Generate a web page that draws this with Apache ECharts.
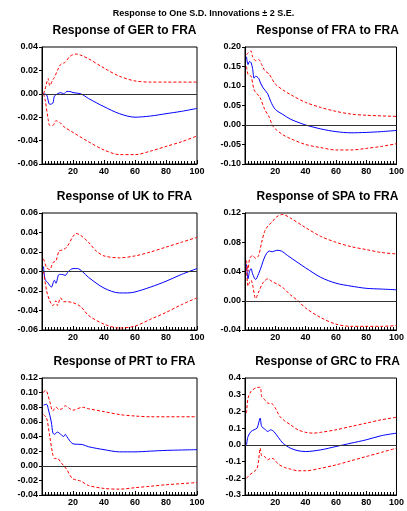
<!DOCTYPE html>
<html><head><meta charset="utf-8">
<script src="https://cdn.jsdelivr.net/npm/echarts@6/dist/echarts.min.js"></script>
<style>html,body{margin:0;padding:0;background:#fff}#c{width:407px;height:511px}</style>
</head><body><div id="c"></div>
<script>
const titles=["Response of GER to FRA","Response of FRA to FRA","Response of UK to FRA","Response of SPA to FRA","Response of PRT to FRA","Response of GRC to FRA"];
const yMin=[-0.06,-0.10,-0.06,-0.04,-0.04,-0.3];
const yMax=[0.04,0.20,0.06,0.12,0.12,0.4];
const yStep=[0.02,0.05,0.02,0.04,0.02,0.1];
const yDec=[2,2,2,2,2,1];
const gerMid=[[1,0],[3,-0.001],[5,-0.009],[7,-0.008],[8,-0.002],[10,0],[12,0.001],[14,0],[16,0.002],[18,0.002],[20,0.001],[25,0],[30,-0.004],[40,-0.011],[50,-0.017],[60,-0.020],[70,-0.019],[80,-0.017],[90,-0.015],[100,-0.0125]];
const gerUp=[[1,0],[2,0.004],[4,0.013],[5,0.007],[7,0.012],[8,0.014],[10,0.020],[12,0.025],[15,0.027],[18,0.032],[22,0.034],[25,0.033],[30,0.030],[40,0.022],[50,0.015],[60,0.011],[70,0.010],[80,0.010],[100,0.010]];
const gerLo=[[1,0],[2,-0.005],[4,-0.022],[5,-0.027],[7,-0.027],[9,-0.023],[12,-0.025],[14,-0.028],[20,-0.033],[30,-0.041],[40,-0.048],[50,-0.052],[60,-0.052],[70,-0.049],[80,-0.045],[90,-0.041],[100,-0.036]];
const fraMid=[[1,0.175],[2,0.155],[3,0.163],[4,0.16],[5,0.145],[6,0.12],[7,0.125],[9,0.12],[10,0.11],[12,0.095],[15,0.08],[17,0.06],[20,0.04],[25,0.027],[30,0.015],[35,0.007],[40,0],[50,-0.01],[60,-0.017],[70,-0.02],[80,-0.019],[90,-0.017],[100,-0.014]];
const fraUp=[[1,0.18],[2,0.185],[4,0.19],[5,0.175],[7,0.165],[9,0.168],[11,0.155],[13,0.14],[16,0.13],[20,0.105],[25,0.09],[30,0.078],[40,0.058],[50,0.045],[60,0.035],[70,0.028],[80,0.025],[100,0.022]];
const fraLo=[[1,0.15],[2,0.13],[4,0.125],[6,0.09],[8,0.08],[10,0.07],[13,0.04],[16,0.02],[18,0],[20,-0.01],[25,-0.025],[30,-0.035],[40,-0.05],[50,-0.058],[60,-0.064],[70,-0.064],[80,-0.06],[90,-0.055],[100,-0.048]];
const ukMid=[[1,0.005],[2,-0.008],[4,-0.012],[6,-0.016],[8,-0.009],[9,-0.012],[11,-0.003],[13,-0.003],[15,-0.004],[17,0],[20,0.003],[23,0.003],[26,0],[30,-0.006],[40,-0.017],[50,-0.022],[55,-0.022],[60,-0.021],[70,-0.016],[80,-0.01],[90,-0.003],[100,0.003]];
const ukUp=[[1,0.013],[3,0.004],[5,0.002],[7,0.009],[9,0.011],[11,0.021],[13,0.022],[16,0.025],[20,0.036],[22,0.039],[25,0.037],[30,0.030],[35,0.021],[40,0.016],[50,0.014],[60,0.016],[70,0.020],[80,0.025],[90,0.030],[100,0.035]];
const ukLo=[[1,0],[3,-0.02],[5,-0.03],[7,-0.035],[9,-0.03],[10,-0.035],[12,-0.027],[14,-0.031],[16,-0.031],[20,-0.032],[25,-0.036],[30,-0.045],[40,-0.054],[50,-0.058],[60,-0.056],[70,-0.049],[80,-0.042],[90,-0.034],[100,-0.027]];
const spaMid=[[1,0.05],[2,0.03],[3,0.04],[4,0.044],[5,0.037],[7,0.029],[9,0.037],[11,0.048],[13,0.06],[16,0.068],[18,0.067],[21,0.069],[24,0.068],[28,0.062],[35,0.052],[40,0.045],[50,0.032],[60,0.024],[70,0.02],[80,0.017],[90,0.016],[100,0.015]];
const spaUp=[[1,0.055],[2,0.04],[3,0.057],[5,0.062],[7,0.058],[9,0.062],[11,0.08],[13,0.095],[15,0.102],[18,0.108],[21,0.115],[25,0.118],[30,0.113],[40,0.1],[50,0.088],[60,0.08],[70,0.074],[80,0.07],[90,0.066],[100,0.064]];
const spaLo=[[1,0.045],[2,0.02],[3,0.025],[4,0.028],[5,0.022],[7,0.003],[9,0.012],[12,0.025],[15,0.03],[18,0.026],[22,0.022],[25,0.018],[30,0.008],[35,0],[40,-0.01],[50,-0.023],[60,-0.032],[70,-0.035],[80,-0.035],[90,-0.035],[100,-0.034]];
const prtMid=[[1,0.083],[3,0.084],[4,0.078],[6,0.06],[7,0.045],[8,0.043],[10,0.046],[12,0.043],[14,0.04],[15,0.043],[16,0.04],[18,0.034],[20,0.03],[26,0.029],[30,0.026],[40,0.022],[50,0.019],[60,0.019],[70,0.02],[80,0.021],[100,0.022]];
const prtUp=[[1,0.1],[2,0.103],[3,0.102],[5,0.088],[7,0.075],[9,0.08],[11,0.077],[13,0.078],[15,0.082],[18,0.078],[20,0.076],[26,0.08],[30,0.078],[40,0.074],[50,0.07],[60,0.068],[70,0.067],[100,0.067]];
const prtLo=[[1,0.07],[3,0.065],[5,0.04],[7,0.015],[8,0.01],[10,0.01],[12,0.005],[14,0],[16,-0.005],[18,-0.013],[20,-0.018],[25,-0.021],[30,-0.027],[40,-0.031],[50,-0.032],[60,-0.03],[70,-0.028],[80,-0.026],[100,-0.023]];
const grcMid=[[1,0],[2,0.05],[4,0.08],[6,0.09],[8,0.1],[9,0.13],[10,0.16],[11,0.11],[13,0.095],[15,0.08],[17,0.09],[19,0.08],[22,0.045],[25,0.01],[30,-0.02],[35,-0.035],[40,-0.04],[50,-0.03],[60,-0.01],[70,0.01],[80,0.03],[90,0.055],[100,0.07]];
const grcUp=[[1,0.19],[2,0.28],[4,0.32],[7,0.34],[10,0.345],[11,0.29],[13,0.27],[15,0.25],[18,0.245],[20,0.22],[23,0.17],[26,0.145],[30,0.12],[35,0.09],[40,0.075],[45,0.07],[50,0.075],[60,0.09],[70,0.11],[80,0.13],[90,0.15],[100,0.165]];
const grcLo=[[1,-0.2],[3,-0.18],[6,-0.16],[8,-0.14],[9,-0.09],[10,-0.02],[11,-0.065],[13,-0.07],[15,-0.09],[17,-0.08],[19,-0.085],[22,-0.115],[26,-0.135],[30,-0.145],[35,-0.155],[40,-0.155],[50,-0.14],[60,-0.12],[70,-0.095],[80,-0.07],[90,-0.045],[100,-0.02]];
const mids=[gerMid,fraMid,ukMid,spaMid,prtMid,grcMid];
const ups=[gerUp,fraUp,ukUp,spaUp,prtUp,grcUp];
const los=[gerLo,fraLo,ukLo,spaLo,prtLo,grcLo];

const lefts=[42,245], tops=[47,213,378], H=117, W=155;
const grids=[],xA=[],yA=[],series=[],titleArr=[{text:"Response to One S.D. Innovations \u00b1 2 S.E.",left:'center',top:4,textStyle:{fontFamily:'Liberation Sans',fontSize:9,fontWeight:'bold',color:'#000'}}];
const font={fontFamily:'Liberation Sans',fontWeight:'bold',fontSize:9,color:'#000'};
for(let i=0;i<6;i++){
  const L=lefts[i%2],T=tops[Math.floor(i/2)];
  grids.push({left:L,top:T,width:W,height:H,show:true,borderColor:'#000',borderWidth:1,backgroundColor:'#fff'});
  titleArr.push({text:titles[i],left:L+W/2,top:T-27,textAlign:'center',textStyle:{fontFamily:'Liberation Sans',fontSize:12,fontWeight:'bold',color:'#000'}});
  xA.push({type:'value',gridIndex:i,min:0,max:100,interval:20,axisLine:{onZero:false,lineStyle:{color:'#000'}},axisTick:{inside:true,length:4,lineStyle:{color:'#000'}},minorTick:{show:true,splitNumber:10,length:3,lineStyle:{color:'#000'}},splitLine:{show:false},axisLabel:{...font,margin:3,formatter:v=>v===0?'':v}});
  yA.push({type:'value',gridIndex:i,min:yMin[i],max:yMax[i],interval:yStep[i],axisLine:{lineStyle:{color:'#000'}},axisTick:{length:3,lineStyle:{color:'#000'}},splitLine:{show:false},axisLabel:{...font,margin:4,formatter:v=>v.toFixed(yDec[i])}});
  series.push({type:'line',xAxisIndex:i,yAxisIndex:i,data:mids[i],showSymbol:false,smooth:0.3,lineStyle:{color:'#0000ff',width:1},z:3,
    markLine:{silent:true,symbol:'none',label:{show:false},lineStyle:{color:'#333',type:'solid',width:1},data:[{yAxis:0}]}});
  series.push({type:'line',xAxisIndex:i,yAxisIndex:i,data:ups[i],showSymbol:false,smooth:0.3,lineStyle:{color:'#ff0000',width:1,type:[3,2]}});
  series.push({type:'line',xAxisIndex:i,yAxisIndex:i,data:los[i],showSymbol:false,smooth:0.3,lineStyle:{color:'#ff0000',width:1,type:[3,2]}});
}
const ch=echarts.init(document.getElementById('c'),null,{renderer:'canvas'});
ch.setOption({animation:false,title:titleArr,grid:grids,xAxis:xA,yAxis:yA,series:series});
</script></body></html>
